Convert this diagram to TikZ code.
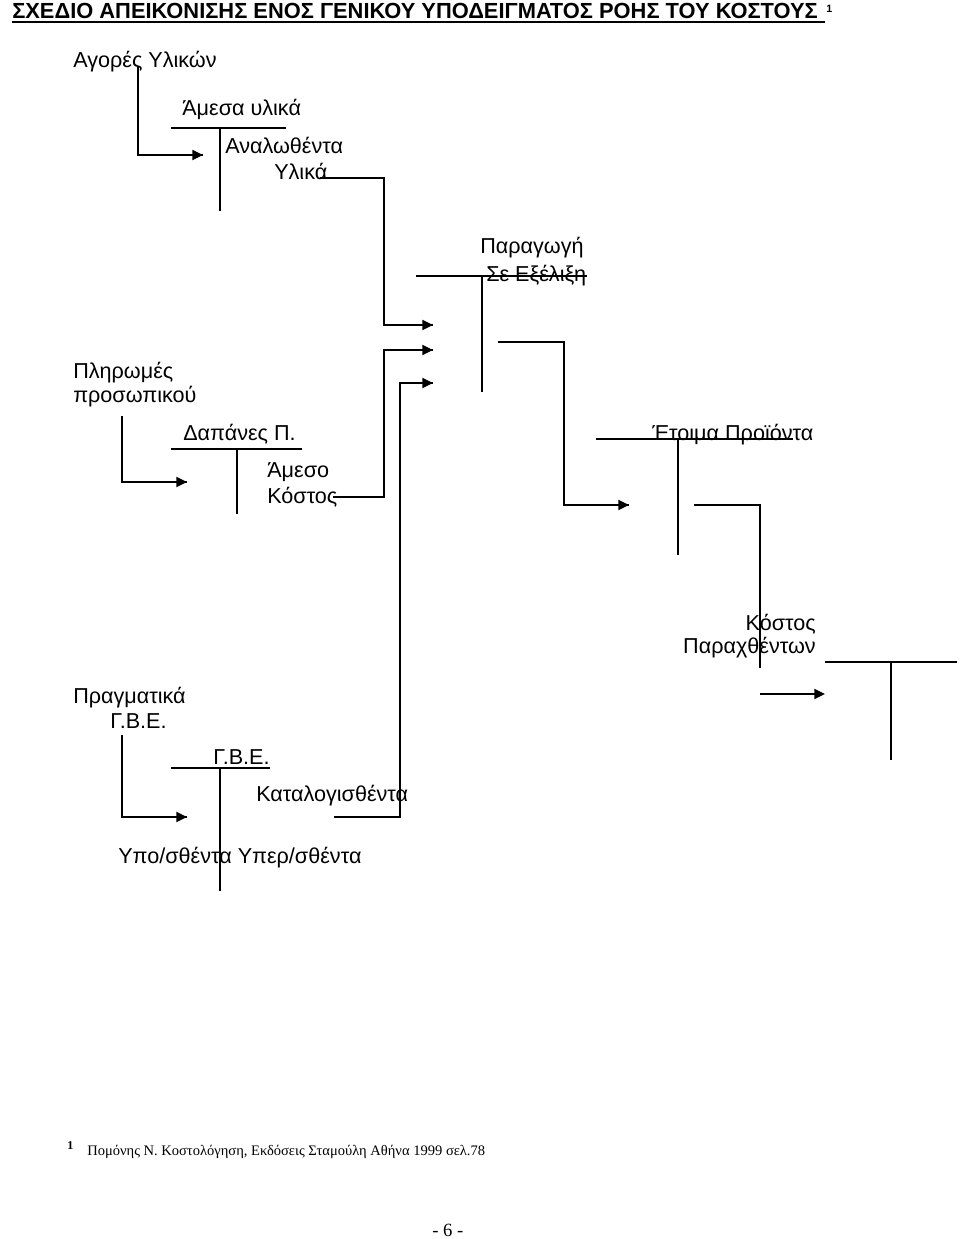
\documentclass[tikz,border=0pt]{standalone}
\usepackage{fontspec}
\setmainfont{Liberation Sans}
\newfontfamily\timesgr{Liberation Serif}
\usetikzlibrary{arrows.meta}
\tikzset{
  x=0.75pt, y=-0.75pt,
  >={Triangle[length=8pt,width=7.5pt]},
  lbl/.style={anchor=base west, inner sep=0pt, font=\fontsize{16.2}{19}\selectfont},
  rlbl/.style={lbl, anchor=base east},
  rule/.style={line width=0.8pt},
  wire/.style={line width=0.8pt},
  flow/.style={->, line width=1.4pt},
}

\begin{document}
\begin{tikzpicture}
  \useasboundingbox (0,0) rectangle (960,1239);

  % heading
  \node [lbl, font=\fontsize{16.4}{19}\selectfont\bfseries] (title) at (12,18)
    {ΣΧΕΔΙΟ ΑΠΕΙΚΟΝΙΣΗΣ ΕΝΟΣ ΓΕΝΙΚΟΥ ΥΠΟΔΕΙΓΜΑΤΟΣ ΡΟΗΣ ΤΟΥ ΚΟΣΤΟΥΣ\kern5pt};
  \node [lbl, font=\fontsize{8}{9}\selectfont\bfseries] (titlenote)
    at ([xshift=1pt,yshift=4pt]title.base east) {1};
  \draw [line width=1.2pt] ([yshift=-3pt]title.base west) -- ([yshift=-3pt]title.base east);

  % labels
  \node [lbl] (agores) at (73,67) {Αγορές Υλικών};
  \node [lbl] (amesaylika) at (182,115) {Άμεσα υλικά};
  \node [lbl] (analothenta) at (225,153) {Αναλωθέντα};
  \node [lbl] (ylika) at (274,179) {Υλικά};
  \node [lbl] (paragogi) at (480,253) {Παραγωγή};
  \node [lbl] (exelixi) at (486,281) {Σε Εξέλιξη};
  \node [lbl] (pliromes) at (73,378) {Πληρωμές};
  \node [lbl] (prosopikou) at (73,402) {προσωπικού};
  \node [lbl] (dapanes) at (183,440) {Δαπάνες Π.};
  \node [lbl] (ameso) at (267,477) {Άμεσο};
  \node [lbl] (amesokostos) at (267,503) {Κόστος};
  \node [lbl] (etoima) at (652,440) {Έτοιμα Προϊόντα};
  \node [rlbl] (kostos) at (816,630) {Κόστος};
  \node [rlbl] (paraxthenton) at (816,653) {Παραχθέντων};
  \node [lbl] (pragmatika) at (73,703) {Πραγματικά};
  \node [lbl] (pragmgbe) at (110,728) {Γ.Β.Ε.};
  \node [lbl] (gbe) at (213,764) {Γ.Β.Ε.};
  \node [lbl] (katalog) at (256,801) {Καταλογισθέντα};
  \node [lbl] (ypoyper) at (118,863) {Υπο/σθέντα Υπερ/σθέντα};

  % T accounts
  \draw [rule] (171,128) -- (286,128) (220,128) -- (220,211);
  \draw [rule] (416,276) -- (587,276) (482,276) -- (482,392);
  \draw [rule] (171,449) -- (302,449) (237,449) -- (237,514);
  \draw [rule] (596,439) -- (793,439) (678,439) -- (678,555);
  \draw [rule] (825,662) -- (957,662) (891,662) -- (891,760);
  \draw [rule] (171,768) -- (270,768) (220,768) -- (220,891);

  % connector ends
  \coordinate (agS) at (138,67);
  \coordinate (agT) at (203,155);
  \coordinate (ylS) at (320,178);
  \coordinate (ylT) at (433,325);
  \coordinate (ksS) at (333,497);
  \coordinate (ksT) at (433,350);
  \coordinate (katS) at (334,817);
  \coordinate (katT) at (433,383);
  \coordinate (plS) at (122,416);
  \coordinate (plT) at (187,482);
  \coordinate (exS) at (498,342);
  \coordinate (exT) at (629,505);
  \coordinate (etS) at (694,505);
  \coordinate (etE) at (760,668);
  \coordinate (pxS) at (760,694);
  \coordinate (pxT) at (825,694);
  \coordinate (prS) at (122,735);
  \coordinate (prT) at (187,817);
  \coordinate (riseA) at (384,0);
  \coordinate (riseB) at (400,0);
  \coordinate (riseC) at (564,0);

  % connectors
  \draw [wire] (agS) |- (agT);
  \draw [flow] (agS |- agT) -- (agT);
  \draw [wire] (ylS) -| (riseA |- ylT) -- (ylT);
  \draw [flow] (riseA |- ylT) -- (ylT);
  \draw [wire] (ksS) -| (riseA |- ksT) -- (ksT);
  \draw [flow] (riseA |- ksT) -- (ksT);
  \draw [wire] (katS) -| (riseB |- katT) -- (katT);
  \draw [flow] (riseB |- katT) -- (katT);
  \draw [wire] (plS) |- (plT);
  \draw [flow] (plS |- plT) -- (plT);
  \draw [wire] (exS) -| (riseC |- exT) -- (exT);
  \draw [flow] (riseC |- exT) -- (exT);
  \draw [wire] (etS) -| (etE);
  \draw [flow] (pxS) -- (pxT);
  \draw [wire] (prS) |- (prT);
  \draw [flow] (prS |- prT) -- (prT);

  % footnote and page number
  \node [lbl, font=\timesgr\fontsize{9}{10}\selectfont\bfseries] (fnmark) at (67,1149) {1};
  \node [lbl, font=\timesgr\fontsize{10.9}{13}\selectfont] (fntext) at (87,1155)
    {Πομόνης Ν. Κοστολόγηση, Εκδόσεις Σταμούλη Αθήνα 1999 σελ.78};
  \node [lbl, font=\timesgr\fontsize{14}{16}\selectfont] (pagenum) at (432,1236) {- 6 -};
\end{tikzpicture}
\end{document}
